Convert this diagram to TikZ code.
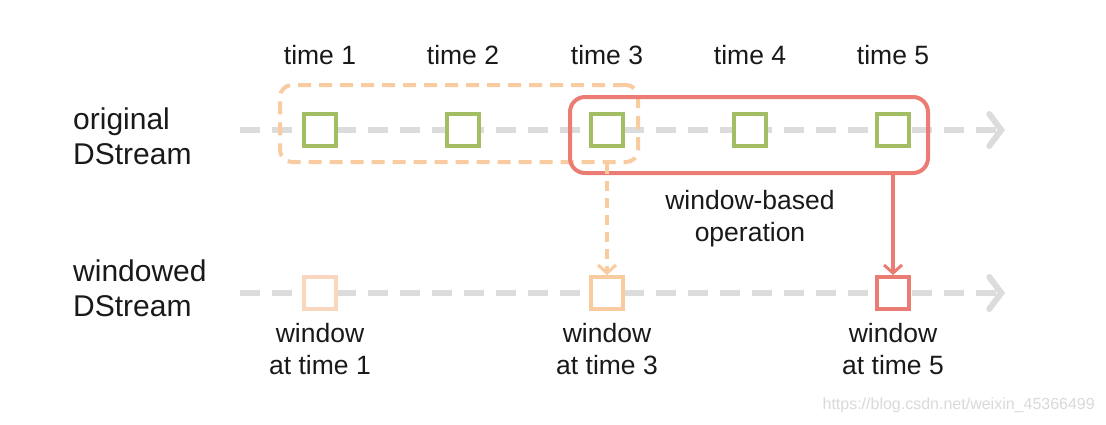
\documentclass[tikz,border=0pt]{standalone}
\usepackage{fontspec}
\setmainfont{Liberation Sans}
\usetikzlibrary{arrows.meta,positioning}
\definecolor{dsGreen}{RGB}{163,189,100}
\definecolor{dsOrange}{RGB}{248,203,160}
\definecolor{dsPale}{RGB}{249,215,190}
\definecolor{dsRed}{RGB}{234,124,115}
\definecolor{dsGrey}{RGB}{220,220,220}
\definecolor{dsText}{RGB}{25,25,25}

\begin{document}
\begin{tikzpicture}[
    x=1pt, y=-1pt,
    batch/.style={draw=dsGreen, line width=4pt, fill=white, inner sep=0pt, minimum size=32pt},
    wbatch/.style={batch, draw=#1},
    timeline/.style={dsGrey, line width=6pt, dash pattern=on 20pt off 12pt,
      -{Straight Barb[length=12pt, width=32pt, line width=6pt, line cap=round]}},
    lbl/.style={text=dsText, font=\fontsize{30}{35}\selectfont, align=left, inner sep=0pt},
    small/.style={text=dsText, font=\fontsize{26.5}{32}\selectfont, align=center, inner sep=0pt},
    winbox/.style={draw=#1, line width=4pt, inner sep=0pt},
    arrow/.style={-{Straight Barb[length=8pt, width=18pt, line width=3pt]}, line width=3.5pt}
  ]
    \useasboundingbox (0,0) rectangle (1106,424);

    % stream lines
    \coordinate (s1) at (240,130);
    \coordinate (e1) at (1005,130);
    \coordinate (s2) at (240,293);
    \coordinate (e2) at (1005,293);
    \draw[timeline] (s1) -- (e1);
    \draw[timeline] (s2) -- (e2);

    % row labels
    \node[lbl, anchor=west] (orig) at (73,136) {original\\DStream};
    \node[lbl, anchor=west] (wind) at (73,288) {windowed\\DStream};

    % windows
    \node[winbox=dsOrange, dash pattern=on 13pt off 8pt, rounded corners=12pt,
      minimum width=358pt, minimum height=77pt] (win3) at (459,123.5) {};
    \node[winbox=dsRed, rounded corners=15pt,
      minimum width=358pt, minimum height=76pt] (win5) at (749,135) {};

    % batches of the original stream
    \foreach \i/\x in {1/320, 2/463, 3/607, 4/750, 5/893} {
      \node[small] (t\i) at (\x,55) {time \i};
      \node[batch] (o\i) at (\x,130) {};
    }

    % windowed stream
    \node[wbatch=dsPale] (w1) at (320,293) {};
    \node[wbatch=dsOrange] (w3) at (607,293) {};
    \node[wbatch=dsRed] (w5) at (893,293) {};

    \draw[arrow, dsOrange, dash pattern=on 10pt off 7pt] (win3.south -| o3) -- (w3.north);
    \draw[arrow, dsRed] (win5.south -| o5) -- (w5.north);

    \node[small] (op) at (750,219) {window-based\\operation};
    \node[small] (l1) at (320,349) {window\\at time 1};
    \node[small] (l3) at (607,349) {window\\at time 3};
    \node[small] (l5) at (893,349) {window\\at time 5};

    \node[text=black!15, font=\fontsize{16}{18}\selectfont, anchor=east, inner sep=0pt] (mark) at (1095,405) {https://blog.csdn.net/weixin\_45366499};
  \end{tikzpicture}
\end{document}
